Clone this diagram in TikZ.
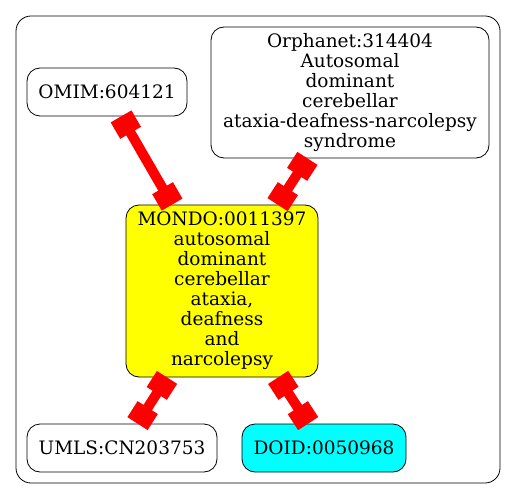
\documentclass[tikz,border=0pt]{standalone}
\usepackage{fontspec}
\setmainfont{DejaVu Serif}
\usetikzlibrary{arrows.meta}
\definecolor{gyellow}{RGB}{255,255,0}
\definecolor{gcyan}{RGB}{0,255,255}
\definecolor{gred}{RGB}{255,0,0}
\tikzset{
  gnode/.style={draw=black, line width=0.8bp, rounded corners=13bp, align=center, inner sep=0pt,
    font=\fontsize{18.5bp}{20bp}\selectfont},
  gedge/.style={draw=gred, line width=10bp, {Rectangle[length=19bp,width=24bp]}-{Rectangle[length=19bp,width=24bp]}}
}
\begin{document}
\begin{tikzpicture}[x=1bp,y=-1bp]
\useasboundingbox (0,0) rectangle (517,499);
\draw[line width=0.8bp, rounded corners=15bp] (16,16) rectangle (500,483);
\node[gnode, minimum width=160bp, minimum height=48bp] (omim) at (107,92) {OMIM:604121};
\node[gnode, minimum width=278bp, minimum height=131bp] (orpha) at (350,92.5) {Orphanet:314404\\Autosomal\\dominant\\cerebellar\\ataxia-deafness-narcolepsy\\syndrome};
\node[gnode, fill=gyellow, minimum width=192bp, minimum height=172bp] (mondo) at (222,291) {MONDO:0011397\\autosomal\\dominant\\cerebellar\\ataxia,\\deafness\\and\\narcolepsy};
\node[gnode, minimum width=190bp, minimum height=48bp] (umls) at (122,448) {UMLS:CN203753};
\node[gnode, fill=gcyan, minimum width=164bp, minimum height=48bp] (doid) at (324,448) {DOID:0050968};
\draw[gedge] (omim) -- (mondo);
\draw[gedge] (orpha) -- (mondo);
\draw[gedge] (mondo) -- (umls);
\draw[gedge] (mondo) -- (doid);
\end{tikzpicture}
\end{document}
